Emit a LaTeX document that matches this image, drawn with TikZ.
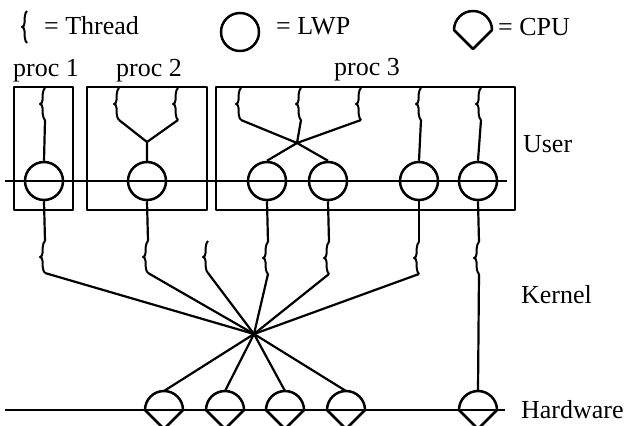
\documentclass[tikz,border=0pt]{standalone}
\usepackage{fontspec}
\setmainfont{Liberation Serif}
\tikzset{
  lbl/.style={inner sep=0pt, anchor=base west, font=\fontsize{26}{30}\selectfont},
  lwp/.style={draw, circle, minimum size=38pt, inner sep=0pt, line width=2.5pt},
  thr/.style={line width=2pt},
  thread/.pic={
    \draw[thr] (1,-16) .. controls (-1.5,-14) and (-1.5,-8) .. (-1.5,-4)
      .. controls (-1.5,-1.5) and (-2.5,-0.5) .. (-4,0)
      .. controls (-2.5,0.5) and (-1.5,1.5) .. (-1.5,4)
      .. controls (-1.5,8) and (-1.5,14) .. (1,16);
    \coordinate (-top) at (1,-16);
    \coordinate (-bot) at (1,16);
  },
  cpu/.pic={
    \draw[line width=2.5pt] (-19,0) arc[start angle=180, end angle=0, radius=19pt] -- (0,19) -- cycle;
    \coordinate (-top) at (0,-19);
  }
}
\begin{document}
\begin{tikzpicture}[x=1pt, y=-1pt, line width=2.2pt, line join=round]
\useasboundingbox (0,0) rectangle (625,426);
\clip (0,0) rectangle (625,426);

% legend
\pic (lt) at (26,27) {thread};
\node[lbl] (ltx) at (43,34) {= Thread};
\node[lwp] (ll) at (240,32) {};
\node[lbl] (llx) at (275,34) {= LWP};
\pic (lc) at (473,30) {cpu};
\node[lbl] (lcx) at (497,35) {= CPU};

% process boxes
\draw (14,87) rectangle (73,210);
\draw (87,87) rectangle (207,210);
\draw (216,87) rectangle (515,210);
\node[lbl] (p1) at (12,76) {proc 1};
\node[lbl] (p2) at (115,76) {proc 2};
\node[lbl] (p3) at (333,75) {proc 3};

% layer labels
\node[lbl] (user) at (522,152) {User};
\node[lbl] (kern) at (520,303) {Kernel};
\node[lbl] (hard) at (520,418) {Hardware};

% user threads
\pic (t1) at (44,104) {thread};
\pic (t21) at (118,104) {thread};
\pic (t22) at (177,104) {thread};
\pic (t31) at (240,104) {thread};
\pic (t32) at (300,104) {thread};
\pic (t33) at (360,104) {thread};
\pic (t34) at (420,104) {thread};
\pic (t35) at (480,104) {thread};

% LWPs
\coordinate (uL) at (5,181);
\coordinate (uR) at (507,181);
\node[lwp] (l1) at (44,181) {};
\node[lwp] (l2) at (147,181) {};
\node[lwp] (l3) at (267,181) {};
\node[lwp] (l4) at (328,181) {};
\node[lwp] (l5) at (419,181) {};
\node[lwp] (l6) at (478,181) {};
\draw (uL) -- (uR);

% user connections
\coordinate (j2) at (147,142);
\coordinate (j3) at (297,143);
\draw (t1-bot) -- (l1.north);
\draw (t21-bot) -- (j2) -- (l2.north);
\draw (t22-bot) -- (j2);
\draw (t31-bot) -- (j3) -- (l3.north);
\draw (t33-bot) -- (j3) -- (l4.north);
\draw (t32-bot) -- (j3);
\draw (t34-bot) -- (l5.north);
\draw (t35-bot) -- (l6.north);

% kernel threads
\pic (k1) at (44,257) {thread};
\pic (k2) at (147,257) {thread};
\pic (k3) at (207,257) {thread};
\pic (k4) at (267,258) {thread};
\pic (k5) at (328,258) {thread};
\pic (k6) at (418,258) {thread};
\pic (k7) at (478,258) {thread};
\draw (l1.south) -- (k1-top);
\draw (l2.south) -- (k2-top);
\draw (l3.south) -- (k4-top);
\draw (l4.south) -- (k5-top);
\draw (l5.south) -- (k6-top);
\draw (l6.south) -- (k7-top);

% CPUs
\coordinate (hL) at (5,410);
\coordinate (hR) at (505,410);
\draw (hL) -- (hR);
\pic (c1) at (164,410) {cpu};
\pic (c2) at (225,410) {cpu};
\pic (c3) at (285,410) {cpu};
\pic (c4) at (346,410) {cpu};
\pic (c5) at (478,410) {cpu};

% scheduler fan
\coordinate (hub) at (254,334);
\foreach \k in {k1,k2,k3,k4,k5,k6} \draw (\k-bot) -- (hub);
\foreach \c in {c1,c2,c3,c4} \draw (hub) -- (\c-top);
\draw (k7-bot) -- (c5-top);
\end{tikzpicture}
\end{document}
